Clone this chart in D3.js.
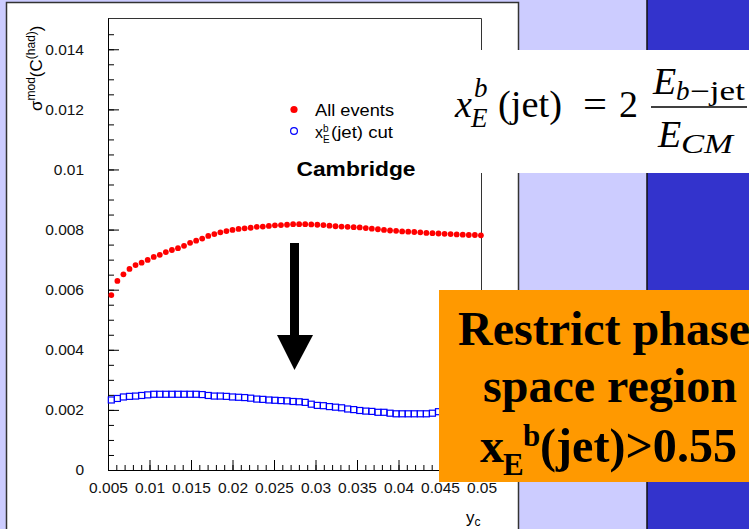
<!DOCTYPE html>
<html>
<head>
<meta charset="utf-8">
<script src="https://cdn.jsdelivr.net/npm/d3@7"></script>
<style>
  body { margin: 0; background: #ccccff; }
  svg { display: block; }
</style>
</head>
<body>
<div id="canvas"></div>
<script>
// y_c values of the points
const yc = [0.00540, 0.00613, 0.00686, 0.00759, 0.00832, 0.00905, 0.00978, 0.01051, 0.01124, 0.01197,
    0.01270, 0.01343, 0.01416, 0.01489, 0.01562, 0.01635, 0.01708, 0.01781, 0.01854, 0.01927,
    0.02000, 0.02073, 0.02146, 0.02219, 0.02292, 0.02365, 0.02438, 0.02511, 0.02584, 0.02657,
    0.02730, 0.02803, 0.02876, 0.02949, 0.03022, 0.03095, 0.03168, 0.03241, 0.03314, 0.03387,
    0.03460, 0.03533, 0.03606, 0.03679, 0.03752, 0.03825, 0.03898, 0.03971, 0.04044, 0.04117,
    0.04190, 0.04263, 0.04336, 0.04409, 0.04482, 0.04555, 0.04628, 0.04701, 0.04774, 0.04847,
    0.04920, 0.04993];
// "All events"
const allEvents = [0.00582, 0.00629, 0.00651, 0.00669, 0.00682, 0.00690, 0.00699, 0.00709, 0.00716, 0.00725,
    0.00732, 0.00738, 0.00746, 0.00756, 0.00763, 0.00770, 0.00779, 0.00785, 0.00791, 0.00795,
    0.00799, 0.00802, 0.00804, 0.00806, 0.00809, 0.00810, 0.00812, 0.00814, 0.00815, 0.00816,
    0.00818, 0.00818, 0.00818, 0.00817, 0.00816, 0.00815, 0.00813, 0.00811, 0.00810, 0.00809,
    0.00808, 0.00807, 0.00805, 0.00803, 0.00801, 0.00799, 0.00797, 0.00796, 0.00794, 0.00793,
    0.00792, 0.00791, 0.00789, 0.00788, 0.00787, 0.00786, 0.00785, 0.00784, 0.00783, 0.00782,
    0.00782, 0.00781];
// "x_E^b(jet) cut"
const xeCut = [0.00233, 0.00238, 0.00243, 0.00245, 0.00246, 0.00248, 0.00250, 0.00252, 0.00252, 0.00252,
    0.00252, 0.00252, 0.00252, 0.00252, 0.00252, 0.00251, 0.00248, 0.00246, 0.00246, 0.00245,
    0.00243, 0.00242, 0.00241, 0.00239, 0.00236, 0.00235, 0.00233, 0.00232, 0.00231, 0.00230,
    0.00228, 0.00227, 0.00225, 0.00219, 0.00215, 0.00214, 0.00211, 0.00209, 0.00207, 0.00203,
    0.00201, 0.00198, 0.00196, 0.00195, 0.00192, 0.00192, 0.00189, 0.00187, 0.00187, 0.00187,
    0.00187, 0.00187, 0.00187, 0.00189, 0.00194, 0.00196, 0.00198, 0.00200, 0.00202, 0.00204,
    0.00206, 0.00207];

const xTicks = [0.005, 0.01, 0.015, 0.02, 0.025, 0.03, 0.035, 0.04, 0.045, 0.05];
const xTickLabels = ["0.005", "0.01", "0.015", "0.02", "0.025", "0.03", "0.035", "0.04", "0.045", "0.05"];
const yTicks = [0, 0.002, 0.004, 0.006, 0.008, 0.01, 0.012, 0.014];
const yTickLabels = ["0", "0.002", "0.004", "0.006", "0.008", "0.01", "0.012", "0.014"];

const width = 749;
const height = 529;
const plotLeft = 108, plotRight = 481.5, plotTop = 18, plotBottom = 470;

let svg = d3.select("#canvas")
    .append("svg")
    .attr("width", width)
    .attr("height", height);

// slide background
svg.append("rect")
    .attr("width", width).attr("height", height)
    .style("fill", "#ccccff");
svg.append("rect")
    .attr("x", 647).attr("y", 0)
    .attr("width", width - 647).attr("height", height)
    .style("fill", "#3333cc");
svg.append("line")
    .attr("x1", 647).attr("y1", 0).attr("x2", 647).attr("y2", height)
    .style("stroke", "#111").style("stroke-width", 1.5);
svg.append("rect")
    .attr("x", 6.5).attr("y", 2.5)
    .attr("width", 512).attr("height", height + 10)
    .style("fill", "#fff")
    .style("stroke", "#333")
    .style("stroke-width", 1.5);

let x = d3.scaleLinear().domain([0.005, 0.05]).range([plotLeft, plotRight]);
let y = d3.scaleLinear().domain([0, 0.01504]).range([plotBottom, plotTop]);

// frame top and right
svg.append("path")
    .attr("d", `M${plotLeft},${plotTop + 0.5}H${plotRight}V${plotBottom}`)
    .style("fill", "none")
    .style("stroke", "#333")
    .style("stroke-width", 1);

function styleAxis(g){
    g.selectAll("line").style("stroke", "#000");
    g.selectAll("path").style("stroke", "#000");
    g.selectAll("text")
        .style("font-family", "'Liberation Sans', Arial, sans-serif")
        .style("font-size", "15.5px")
        .style("fill", "#111");
}

// minor ticks
svg.append("g")
    .attr("transform", `translate(0,${plotBottom})`)
    .call(d3.axisBottom(x).tickValues(d3.range(0.005, 0.0505, 0.001)).tickSize(-5).tickSizeOuter(0).tickFormat(""))
    .call(g => g.select(".domain").remove())
    .call(styleAxis);
svg.append("g")
    .attr("transform", `translate(${plotLeft},0)`)
    .call(d3.axisLeft(y).tickValues(d3.range(0, 0.0146, 0.0005)).tickSize(-6).tickSizeOuter(0).tickFormat(""))
    .call(g => g.select(".domain").remove())
    .call(styleAxis);

// major ticks + labels
svg.append("g")
    .attr("transform", `translate(0,${plotBottom})`)
    .call(d3.axisBottom(x).tickValues(xTicks).tickSize(-10).tickSizeOuter(0).tickPadding(12)
        .tickFormat((d, i) => xTickLabels[i]))
    .call(styleAxis);
svg.append("g")
    .attr("transform", `translate(${plotLeft},0)`)
    .call(d3.axisLeft(y).tickValues(yTicks).tickSize(-11).tickSizeOuter(0).tickPadding(24)
        .tickFormat((d, i) => yTickLabels[i]))
    .call(styleAxis);

// axis titles
let ytitle = svg.append("text")
    .attr("transform", "translate(42,111) rotate(-90)")
    .style("font-family", "'Liberation Sans', Arial, sans-serif")
    .style("font-size", "17px")
    .style("fill", "#000");
ytitle.append("tspan").text("σ");
ytitle.append("tspan").attr("dy", -7).style("font-size", "12px").text("mod");
ytitle.append("tspan").attr("dy", 7).text("(C");
ytitle.append("tspan").attr("dy", -7).style("font-size", "12px").text("(had)");
ytitle.append("tspan").attr("dy", 7).text(")");

let xtitle = svg.append("text")
    .attr("x", 466).attr("y", 523)
    .style("font-family", "'Liberation Sans', Arial, sans-serif")
    .style("font-size", "17px")
    .style("fill", "#000");
xtitle.append("tspan").text("y");
xtitle.append("tspan").attr("dy", 3).style("font-size", "12px").text("c");

// data
svg.append("g")
    .selectAll("circle")
    .data(yc)
    .join("circle")
    .attr("cx", d => x(d))
    .attr("cy", (d, i) => y(allEvents[i]))
    .attr("r", 2.9)
    .style("fill", "#ff0000");

svg.append("g")
    .selectAll("rect")
    .data(yc)
    .join("rect")
    .attr("x", d => x(d) - 3)
    .attr("y", (d, i) => y(xeCut[i]) - 3)
    .attr("width", 6)
    .attr("height", 6)
    .style("fill", "none")
    .style("stroke", "#0000ff")
    .style("stroke-width", 1.2);

// legend
const sans = "'Liberation Sans', Arial, sans-serif";
svg.append("circle")
    .attr("cx", 294).attr("cy", 109.5).attr("r", 3.6)
    .style("fill", "#ff0000");
svg.append("circle")
    .attr("cx", 294).attr("cy", 131).attr("r", 3.4)
    .style("fill", "none").style("stroke", "#0000ff").style("stroke-width", 1.2);
svg.append("text")
    .attr("x", 315).attr("y", 116)
    .attr("textLength", 79).attr("lengthAdjust", "spacingAndGlyphs")
    .style("font-family", sans).style("font-size", "16px")
    .text("All events");
svg.append("text")
    .attr("x", 315).attr("y", 138)
    .style("font-family", sans).style("font-size", "16px")
    .text("x");
svg.append("text")
    .attr("x", 323).attr("y", 132)
    .style("font-family", sans).style("font-size", "10px")
    .text("b");
svg.append("text")
    .attr("x", 323).attr("y", 143)
    .style("font-family", sans).style("font-size", "10px")
    .text("E");
svg.append("text")
    .attr("x", 331).attr("y", 138)
    .attr("textLength", 62).attr("lengthAdjust", "spacingAndGlyphs")
    .style("font-family", sans).style("font-size", "16px")
    .text("(jet) cut");
svg.append("text")
    .attr("x", 296.5).attr("y", 176)
    .attr("textLength", 119).attr("lengthAdjust", "spacingAndGlyphs")
    .style("font-family", sans).style("font-size", "20px").style("font-weight", "bold")
    .text("Cambridge");

// arrow
svg.append("rect")
    .attr("x", 290).attr("y", 243)
    .attr("width", 9).attr("height", 95)
    .style("fill", "#000");
svg.append("path")
    .attr("d", "M277,335L313,335L294.5,370Z")
    .style("fill", "#000");

// formula box
svg.append("rect")
    .attr("x", 445).attr("y", 50)
    .attr("width", 310).attr("height", 123)
    .style("fill", "#fff");

const serif = "'Liberation Serif', 'Times New Roman', serif";
function mathText(tx, ty, size, str, italic, len){
    let t = svg.append("text")
        .attr("x", tx).attr("y", ty)
        .style("font-family", serif)
        .style("font-size", size + "px")
        .style("font-style", italic ? "italic" : "normal")
        .style("fill", "#000")
        .text(str);
    if(len){
        t.attr("textLength", len).attr("lengthAdjust", "spacingAndGlyphs");
    }
    return t;
}
mathText(455, 117, 38, "x", true);
mathText(474, 97, 27, "b", true);
mathText(471, 127, 27, "E", true);
mathText(498, 117, 38, "(jet)", false, 64);
mathText(583, 117, 38, "=", false, 24);
mathText(619, 117, 38, "2", false);
svg.append("line")
    .attr("x1", 651).attr("x2", 747)
    .attr("y1", 107).attr("y2", 107)
    .style("stroke", "#000").style("stroke-width", 1.5);
mathText(653, 94, 38, "E", true);
mathText(676, 100, 27, "b", true);
mathText(690, 100, 27, "−jet", false, 55);
mathText(658, 147, 38, "E", true);
mathText(681, 153, 27, "CM", true, 52);

// orange box
svg.append("rect")
    .attr("x", 439).attr("y", 290)
    .attr("width", 320).attr("height", 192)
    .style("fill", "#ff9900");

function boxLine(tx, ty){
    return svg.append("text")
        .attr("x", tx).attr("y", ty)
        .attr("text-anchor", "middle")
        .style("font-family", serif)
        .style("font-size", "48px")
        .style("font-weight", "bold")
        .style("fill", "#000");
}
boxLine(604, 345).text("Restrict phase");
boxLine(610, 402).text("space region");
let line3 = boxLine(480, 462).attr("text-anchor", "start");
line3.append("tspan").text("x");
line3.append("tspan").attr("x", 503).attr("dy", 13).style("font-size", "31px").text("E");
line3.append("tspan").attr("x", 523).attr("dy", -29).style("font-size", "31px").text("b");
line3.append("tspan").attr("x", 540).attr("dy", 16)
    .attr("textLength", 197).attr("lengthAdjust", "spacingAndGlyphs")
    .text("(jet)>0.55");
</script>
</body>
</html>
